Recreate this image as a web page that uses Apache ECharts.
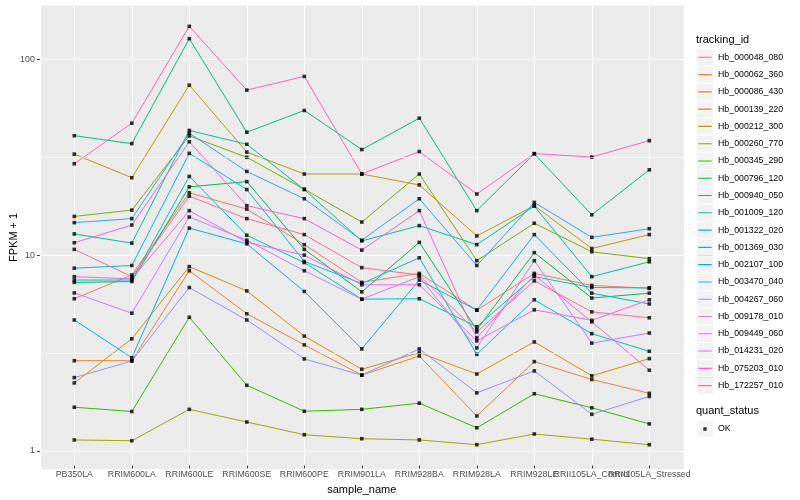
<!DOCTYPE html>
<html>
<head>
<meta charset="utf-8">
<script src="https://cdn.jsdelivr.net/npm/echarts@6/dist/echarts.min.js"></script>
<style>html,body{margin:0;padding:0;background:#fff;}#c{width:800px;height:500px;}</style>
</head>
<body>
<div id="c"></div>
<script>
const categories = ['PB350LA','RRIM600LA','RRIM600LE','RRIM600SE','RRIM600PE','RRIM901LA','RRIM928BA','RRIM928LA','RRIM928LE','RRII105LA_Control','RRII105LA_Stressed'];
const yTickValues = [1, 10, 100];
const minorTickValues = [3.1623, 31.623];

const hb_000048_080 = [5.85, 7.75, 20.5, 16.9, 11.1, 7.1, 7.9, 5.11, 7.9, 6.85, 6.62];
const hb_000062_360 = [2.81, 2.81, 8.15, 4.90, 3.39, 2.37, 2.97, 1.46, 2.78, 2.25, 1.91];
const hb_000086_430 = [2.16, 3.64, 8.56, 6.42, 3.76, 2.54, 3.09, 2.40, 3.51, 2.35, 2.88];
const hb_000139_220 = [32.4, 24.5, 73.3, 33.2, 25.6, 25.6, 22.5, 12.3, 17.6, 10.6, 12.5];
const hb_000212_300 = [1.10, 1.09, 1.58, 1.36, 1.17, 1.116, 1.10, 1.04, 1.18, 1.11, 1.04];
const hb_000260_770 = [15.5, 16.7, 40.2, 31.2, 21.4, 14.5, 25.6, 9.18, 14.3, 10.2, 9.4];
const hb_000345_290 = [1.62, 1.54, 4.70, 2.10, 1.545, 1.58, 1.70, 1.27, 1.90, 1.61, 1.33];
const hb_000796_120 = [7.1, 7.17, 22.0, 23.4, 10.5, 6.35, 11.4, 4.05, 10.1, 5.9, 6.25];
const hb_000940_050 = [40.3, 36.7, 127, 42, 54.3, 34.2, 49.6, 16.6, 32.5, 15.8, 26.9];
const hb_001009_120 = [12.6, 11.3, 42.9, 36.4, 21.3, 11.6, 13.9, 11.1, 17.5, 7.6, 9.06];
const hb_001322_020 = [7.3, 7.3, 24.9, 12.4, 8.97, 5.82, 5.85, 4.2, 7.6, 6.68, 6.65];
const hb_001369_030 = [8.4, 8.67, 32.7, 21.3, 9.1, 7.0, 9.5, 3.03, 5.78, 3.87, 3.14];
const hb_002107_100 = [4.55, 2.91, 13.5, 11.2, 6.38, 3.23, 7.3, 5.11, 12.5, 6.25, 5.5];
const hb_003470_040 = [14.4, 15.1, 41.5, 26.4, 19.1, 11.7, 19.1, 8.67, 18.3, 12.1, 13.4];
const hb_004267_060 = [2.30, 2.80, 6.68, 4.55, 2.87, 2.37, 3.23, 1.92, 2.49, 1.49, 1.84];
const hb_009178_010 = [6.27, 4.93, 15.4, 11.7, 8.15, 5.82, 7.6, 3.27, 9.18, 3.46, 3.9];
const hb_009449_060 = [7.6, 7.4, 16.6, 11.4, 9.8, 6.9, 6.9, 3.55, 5.13, 4.53, 5.78];
const hb_014231_020 = [11.35, 14.0, 37.5, 17.6, 15.1, 10.4, 16.6, 3.68, 7.75, 4.45, 2.51];
const hb_075203_010 = [28.9, 46.7, 147, 69.1, 81.3, 25.6, 33.4, 20.2, 32.6, 31.3, 38.0];
const hb_172257_010 = [10.5, 7.6, 19.7, 15.1, 12.5, 8.45, 7.75, 3.95, 7.23, 5.01, 4.67];

const trackingIds = ['Hb_000048_080','Hb_000062_360','Hb_000086_430','Hb_000139_220','Hb_000212_300','Hb_000260_770','Hb_000345_290','Hb_000796_120','Hb_000940_050','Hb_001009_120','Hb_001322_020','Hb_001369_030','Hb_002107_100','Hb_003470_040','Hb_004267_060','Hb_009178_010','Hb_009449_060','Hb_014231_020','Hb_075203_010','Hb_172257_010'];
const seriesValues = [hb_000048_080,hb_000062_360,hb_000086_430,hb_000139_220,hb_000212_300,hb_000260_770,hb_000345_290,hb_000796_120,hb_000940_050,hb_001009_120,hb_001322_020,hb_001369_030,hb_002107_100,hb_003470_040,hb_004267_060,hb_009178_010,hb_009449_060,hb_014231_020,hb_075203_010,hb_172257_010];
const colors = ['#F8766D','#EA8331','#D89000','#C09B00','#A3A500','#7CAE00','#39B600','#00BB4E','#00BF7D','#00C1A3','#00BFC4','#00BAE0','#00B0F6','#35A2FF','#9590FF','#C77CFF','#E76BF3','#FA62DB','#FF62BC','#FF6C91'];
const quantStatus = ['OK'];

const FONT = '"Liberation Sans", Arial, Helvetica, sans-serif';
// panel limits in log10 space (data range with 5% expansion)
const yMin = Math.pow(10, -0.0905);
const yMax = Math.pow(10, 2.2745);

const chart = echarts.init(document.getElementById('c'), null, {renderer: 'canvas'});

const series = [];
trackingIds.forEach((id, i) => {
  series.push({
    name: id, type: 'line', xAxisIndex: 0, yAxisIndex: 0,
    data: seriesValues[i], showSymbol: false, symbol: 'none',
    lineStyle: {color: colors[i], width: 1}, itemStyle: {color: colors[i]},
    z: 2, silent: true, animation: false
  });
});
trackingIds.forEach((id, i) => {
  series.push({
    name: id, type: 'scatter', xAxisIndex: 0, yAxisIndex: 0,
    data: seriesValues[i], symbol: 'rect', symbolSize: 3.6,
    itemStyle: {color: '#000'}, z: 3, silent: true, animation: false
  });
});
series.push({
  name: quantStatus[0], type: 'scatter', xAxisIndex: 1, yAxisIndex: 1,
  data: [], symbol: 'rect', itemStyle: {color: '#000'}, silent: true
});
series.push({
  name: '_minor', type: 'line', xAxisIndex: 2, yAxisIndex: 2,
  data: [[0.5, 3]], showSymbol: false, symbol: 'none', lineStyle: {opacity: 0}, z: 1, silent: true,
  markLine: {
    silent: true, symbol: 'none', animation: false,
    label: {show: false},
    lineStyle: {color: '#FFFFFF', width: 0.55, type: 'solid'},
    emphasis: {disabled: true},
    data: minorTickValues.map(v => ({yAxis: v}))
  }
});

const lineIcon = 'path://M0,0H16V0.01H0ZM1.3,7.45H14.7V8.55H1.3ZM0,15.99H16V16H0Z';
const pointIcon = 'path://M0,0H16V0.01H0ZM6.3,6.3H9.7V9.7H6.3ZM0,15.99H16V16H0Z';

const legendCommon = {
  orient: 'vertical', left: 697, padding: 0, itemWidth: 16, itemHeight: 16, itemGap: 1.28,
  selectedMode: false, textStyle: {fontFamily: FONT, fontSize: 8.8, color: '#000'}
};

const option = {
  animation: false,
  backgroundColor: '#FFFFFF',
  title: [
    {text: 'tracking_id', left: 696, top: 34.5, padding: 0, textStyle: {fontFamily: FONT, fontSize: 11, fontWeight: 'normal', color: '#000'}},
    {text: 'quant_status', left: 696, top: 405.5, padding: 0, textStyle: {fontFamily: FONT, fontSize: 11, fontWeight: 'normal', color: '#000'}}
  ],
  grid: [
    // data panel (category centres)
    {left: 45.55, right: 121.95, top: 5.5, bottom: 30.7, containLabel: false, show: false},
    // full panel background
    {left: 39.8, right: 116.2, top: 5.5, bottom: 30.7, containLabel: false, show: true, backgroundColor: '#EBEBEB', borderWidth: 0, borderColor: 'transparent', z: -1},
    // y-range 1..100 for ticks/labels/gridlines
    {left: 39.8, right: 116.2, top: 59.3, bottom: 49, containLabel: false, show: false}
  ],
  xAxis: [
    {
      type: 'category', gridIndex: 0, data: categories, boundaryGap: true,
      axisLine: {show: false},
      axisTick: {show: true, alignWithLabel: true, length: 2.75, lineStyle: {color: '#333333', width: 1}, interval: 0},
      axisLabel: {show: true, interval: 0, margin: 4.5, color: '#4D4D4D', fontSize: 8.8, fontFamily: FONT, hideOverlap: false},
      splitLine: {show: true, alignWithLabel: true, interval: 0, lineStyle: {color: '#FFFFFF', width: 1.1}},
      name: 'sample_name', nameLocation: 'middle', nameGap: 13.5,
      nameTextStyle: {fontFamily: FONT, fontSize: 11, color: '#000'}
    },
    {type: 'value', gridIndex: 1, min: 0, max: 1, show: false},
    {type: 'value', gridIndex: 2, min: 0, max: 1, show: false}
  ],
  yAxis: [
    {type: 'log', logBase: 10, gridIndex: 0, min: yMin, max: yMax, show: false},
    {
      type: 'log', logBase: 10, gridIndex: 1, min: yMin, max: yMax,
      axisLine: {show: false}, axisTick: {show: false}, axisLabel: {show: false}, splitLine: {show: false},
      name: 'FPKM + 1', nameLocation: 'middle', nameGap: 22, nameRotate: 90,
      nameTextStyle: {fontFamily: FONT, fontSize: 11, color: '#000'}
    },
    {
      type: 'log', logBase: 10, gridIndex: 2, min: yTickValues[0], max: yTickValues[yTickValues.length - 1],
      axisLine: {show: false},
      axisTick: {show: true, length: 2.75, lineStyle: {color: '#333333', width: 1}},
      axisLabel: {show: true, margin: 5, color: '#4D4D4D', fontSize: 8.8, fontFamily: FONT,
        formatter: v => String(Math.round(v))},
      splitLine: {show: true, lineStyle: {color: '#FFFFFF', width: 1.1}}
    }
  ],
  legend: [
    Object.assign({}, legendCommon, {
      top: 49.3, icon: 'rect', itemStyle: {color: '#F2F2F2', borderWidth: 0},
      data: trackingIds.map(n => ({name: n}))
    }),
    Object.assign({}, legendCommon, {
      top: 49.3, icon: lineIcon, formatter: () => '', itemStyle: {borderWidth: 0},
      data: trackingIds.map((n, i) => ({name: n, itemStyle: {color: colors[i], borderWidth: 0}}))
    }),
    Object.assign({}, legendCommon, {
      top: 421, icon: 'rect', itemStyle: {color: '#F2F2F2', borderWidth: 0},
      data: quantStatus.map(n => ({name: n}))
    }),
    Object.assign({}, legendCommon, {
      top: 421, icon: pointIcon, formatter: () => '', itemStyle: {borderWidth: 0},
      data: quantStatus.map(n => ({name: n, itemStyle: {color: '#000', borderWidth: 0}}))
    })
  ],
  series: series
};
chart.setOption(option);
</script>
</body>
</html>
